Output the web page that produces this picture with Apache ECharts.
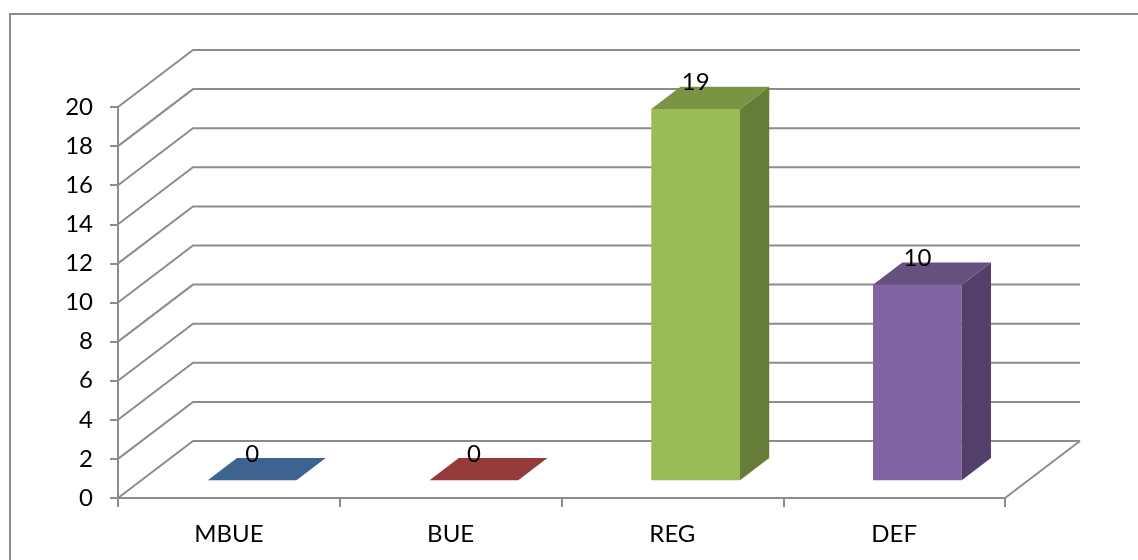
<!DOCTYPE html>
<html>
<head>
<meta charset="utf-8">
<script src="https://cdn.jsdelivr.net/npm/echarts@6/dist/echarts.min.js"></script>
<style>
  html, body { margin: 0; padding: 0; background: #ffffff; }
  #frame { position: absolute; left: 9px; top: 13px; width: 1140px; height: 560px; border: 2px solid #8c8c8c; box-sizing: border-box; }
  #chart { position: absolute; left: 0; top: 0; width: 1138px; height: 560px; }
</style>
</head>
<body>
<div id="frame"></div>
<div id="chart"></div>
<script>
// Categories and counts
const categories = ['MBUE', 'BUE', 'REG', 'DEF'];
const counts = [0, 0, 19, 10];
// Value axis ticks (also the back-wall gridlines)
const yTicks = [0, 2, 4, 6, 8, 10, 12, 14, 16, 18, 20];

// Face colours per category: [front, side, top]
const faceColors = [
  ['#4F81BD', '#385D8A', '#3D6391'],
  ['#C0504D', '#8C3836', '#943B39'],
  ['#9BBB59', '#657D37', '#7A9443'],
  ['#8064A2', '#523F6A', '#66507F']
];

// Oblique depth offset of the plot box (pixels), and where bars sit within it
const DEPTH = [75, -57];
const BAR_FRONT = 0.31;
const BAR_BACK = 0.70;
const BAR_WIDTH = 0.40;
const LINE = '#8c8c8c';
const FONT = 'Lato, "Open Sans", sans-serif';
const FONT_SIZE = 24;

const chart = echarts.init(document.getElementById('chart'));

function wallItem(params, api) {
  const cs = params.coordSys;
  const v = api.value(0);
  const y = api.coord([0, v])[1];
  const x0 = cs.x, x1 = cs.x + cs.width;
  const children = [{
    type: 'polyline',
    shape: { points: [[x0, y], [x0 + DEPTH[0], y + DEPTH[1]], [x1 + DEPTH[0], y + DEPTH[1]]] },
    style: { stroke: LINE, lineWidth: 2, fill: null }
  }];
  if (v === 0) {
    children.push({
      type: 'line',
      shape: { x1: x1, y1: y, x2: x1 + DEPTH[0], y2: y + DEPTH[1] },
      style: { stroke: LINE, lineWidth: 2 }
    });
  }
  return { type: 'group', children: children };
}

function barItem(params, api) {
  const i = api.value(0);
  const v = api.value(1);
  const top = api.coord([i, v]);
  const base = api.coord([i, 0]);
  const band = api.size([1, 0])[0];
  const w = band * BAR_WIDTH;
  const fx = top[0] - w / 2 + BAR_FRONT * DEPTH[0];
  const fyTop = top[1] + BAR_FRONT * DEPTH[1];
  const fyBot = base[1] + BAR_FRONT * DEPTH[1];
  const dx = (BAR_BACK - BAR_FRONT) * DEPTH[0];
  const dy = (BAR_BACK - BAR_FRONT) * DEPTH[1];
  const c = faceColors[i];
  return {
    type: 'group',
    children: [
      { type: 'polygon', shape: { points: [[fx, fyTop], [fx + w, fyTop], [fx + w, fyBot], [fx, fyBot]] }, style: { fill: c[0] } },
      { type: 'polygon', shape: { points: [[fx + w, fyTop], [fx + w + dx, fyTop + dy], [fx + w + dx, fyBot + dy], [fx + w, fyBot]] }, style: { fill: c[1] } },
      { type: 'polygon', shape: { points: [[fx, fyTop], [fx + dx, fyTop + dy], [fx + w + dx, fyTop + dy], [fx + w, fyTop]] }, style: { fill: c[2] } },
      { type: 'text', x: fx + w / 2, y: fyTop + dy - 4,
        style: { text: String(v), font: FONT_SIZE + 'px ' + FONT, fill: '#000', align: 'center', verticalAlign: 'middle' } }
    ]
  };
}

chart.setOption({
  animation: false,
  backgroundColor: 'transparent',
  grid: { left: 118, right: 133, top: 107, bottom: 62 },
  xAxis: {
    type: 'category',
    data: categories,
    axisLine: { lineStyle: { color: LINE, width: 2 } },
    axisTick: { show: true, length: 9, lineStyle: { color: LINE, width: 2 } },
    axisLabel: { color: '#000', fontSize: FONT_SIZE, fontFamily: FONT, margin: 24 }
  },
  yAxis: {
    type: 'value',
    min: 0, max: 20, interval: 2,
    axisLine: { show: true, lineStyle: { color: LINE, width: 2 } },
    axisTick: { show: true, length: 8, lineStyle: { color: LINE, width: 2 } },
    splitLine: { show: false },
    axisLabel: { color: '#000', fontSize: FONT_SIZE, fontFamily: FONT, margin: 25 }
  },
  series: [
    {
      type: 'custom',
      z: 1,
      silent: true,
      renderItem: wallItem,
      data: yTicks.map(t => [t])
    },
    {
      type: 'custom',
      z: 2,
      renderItem: barItem,
      encode: { x: 0, y: 1 },
      data: counts.map((v, i) => [i, v])
    }
  ]
});
</script>
</body>
</html>
